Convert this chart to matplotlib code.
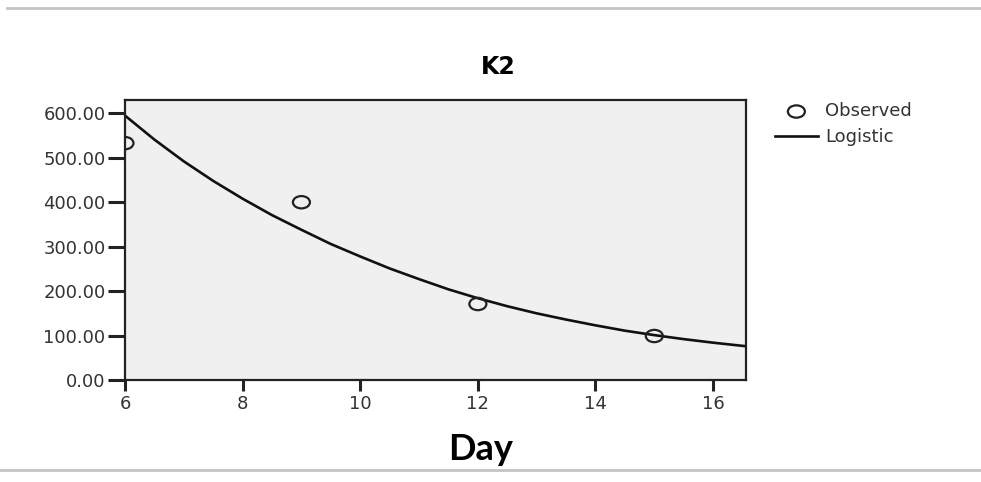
import matplotlib
matplotlib.use("Agg")
import matplotlib.pyplot as plt
from matplotlib.lines import Line2D
from matplotlib.path import Path
from matplotlib.transforms import Affine2D

plt.rcParams["font.family"] = ["DejaVu Sans"]

# observed points
obs_day = [6, 9, 12, 15]
obs_val = [533, 400, 171, 99]

# logistic fit, values
fit_day = [6, 6.5, 7, 7.5, 8, 8.5, 9, 9.5, 10, 10.5, 11, 11.5, 12, 12.5,
           13, 13.5, 14, 14.5, 15, 15.5, 16, 16.56]
fit_val = [595, 541, 492, 448, 408, 371, 338, 306, 278, 251, 227, 204, 184, 166,
           150, 136, 123, 111, 101, 92, 84, 76]

xticks = [6, 8, 10, 12, 14, 16]
yticks = [0, 100, 200, 300, 400, 500, 600]

# SPSS draws its circles a little wide
oval = Path.unit_circle().transformed(Affine2D().scale(1.38, 1.0))

fig = plt.figure(figsize=(9.81, 4.82), dpi=100)
ax = fig.add_axes([0.1274, 0.2116, 0.6331, 0.5809])
ax.set_facecolor("#f0f0f0")

ax.plot(fit_day, fit_val, "-", color="#111111", lw=1.9, label="Logistic", zorder=2)
ax.scatter(obs_day, obs_val, s=150, marker=oval, facecolors="none",
           edgecolors="#222222", linewidths=1.6, label="Observed", zorder=3)

ax.set_xlim(6, 16.56)
ax.set_ylim(0, 630)
ax.set_xticks(xticks)
ax.set_yticks(yticks)
ax.set_yticklabels([f"{v:.2f}" for v in yticks])
ax.tick_params(axis="both", direction="out", length=12, width=2.2, color="#222222",
               labelsize=13, labelcolor="#333333", pad=2)
ax.tick_params(axis="x", length=8, pad=3)
for s in ax.spines.values():
    s.set_linewidth(1.6)
    s.set_color("#222222")
    s.set_zorder(4)

fig.text(0.508, 0.862, "K2", fontsize=17, fontweight="bold", ha="center", va="center")
ax.set_xlabel("Day", fontsize=26, fontweight="bold", family="Lato")
ax.xaxis.set_label_coords(0.572, -0.19)

h, l = ax.get_legend_handles_labels()
ax.legend(h[::-1], l[::-1], loc="upper left", bbox_to_anchor=(1.02, 1.05), frameon=False,
          fontsize=13, handlelength=2.4, handletextpad=0.4, labelspacing=0.45,
          labelcolor="#333333")

# grey separator lines
fig.add_artist(Line2D([0.007, 1], [0.984, 0.984], transform=fig.transFigure, color="#c4c4c4", lw=2))
fig.add_artist(Line2D([0.0, 1], [0.025, 0.025], transform=fig.transFigure, color="#c4c4c4", lw=2))

plt.savefig("out.png", dpi=100)
